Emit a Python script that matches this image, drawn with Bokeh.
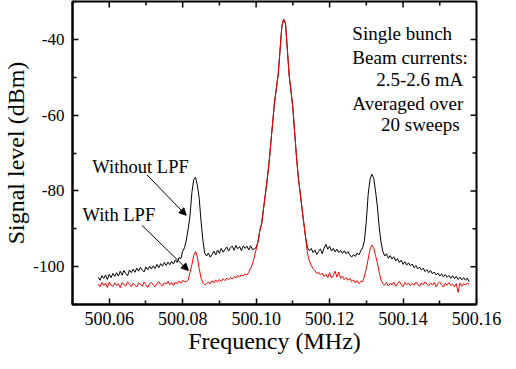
import numpy as np
from bokeh.plotting import figure
from bokeh.models import (FixedTicker, PrintfTickFormatter, Label, Arrow, NormalHead,
                          ColumnDataSource)
from bokeh.embed import file_html
from bokeh.resources import INLINE

# ---------------- data ----------------
# frequency sweep grid (MHz), 0.0005 MHz spacing, 500.057 .. 500.158
freq = np.round(500.057 + 0.0005 * np.arange(203), 4)

without_lpf = [
    -102.8, -103.6, -102.4, -103.1, -102.2, -103.4, -102.0, -102.9, -101.8, -102.6,
    -101.6, -102.5, -101.2, -102.3, -101.0, -101.9, -102.4, -100.9, -101.6, -100.7,
    -101.5, -100.4, -101.2, -100.2, -100.9, -101.4, -100.1, -100.8, -99.9, -100.6,
    -99.8, -100.5, -99.4, -100.3, -99.2, -99.9, -98.9, -99.7, -98.8, -99.5,
    -98.6, -99.3, -98.2, -98.9, -97.6, -97.9, -96.0, -95.0, -93.0, -90.0,
    -86.5, -80.5, -77.0, -76.4, -78.5, -82.0, -88.0, -93.0, -96.5, -97.2,
    -96.4, -97.5, -96.8, -95.9, -96.9, -95.6, -96.5, -95.2, -96.2, -95.5,
    -94.8, -95.9, -95.0, -94.6, -95.7, -94.4, -95.3, -94.7, -95.8, -94.5,
    -95.2, -94.6, -95.6, -94.5, -95.5, -95.3, -95.0, -93.5, -90.5, -88.7,
    -84.8, -81.0, -77.1, -72.8, -67.4, -62.0, -56.6, -53.0, -49.3, -43.0,
    -36.5, -34.7, -35.8, -42.7, -49.6, -53.7, -58.1, -64.7, -71.2, -76.6,
    -80.6, -84.7, -88.7, -92.5, -95.0, -95.8, -95.2, -96.3, -95.6, -96.8,
    -96.0, -95.3, -96.6, -95.1, -94.1, -95.4, -94.6, -95.9, -95.2, -96.1,
    -95.4, -96.3, -95.7, -96.5, -95.8, -96.6, -96.0, -96.9, -97.5, -96.8,
    -97.3, -96.4, -96.9, -95.8, -95.0, -93.0, -88.0, -81.0, -77.0, -75.6,
    -76.5, -80.0, -84.0, -89.5, -93.5, -96.0, -97.2, -96.6, -97.8, -97.1,
    -98.0, -97.4, -98.5, -97.9, -98.9, -98.3, -99.4, -98.7, -99.6, -99.0,
    -99.8, -99.3, -100.3, -99.7, -100.6, -100.1, -100.9, -100.4, -101.3, -100.8,
    -101.6, -101.0, -101.9, -101.4, -102.2, -101.7, -102.5, -101.9, -102.7, -102.1,
    -102.8, -102.3, -103.1, -102.4, -103.2, -102.6, -103.4, -102.8, -103.5, -102.9,
    -103.6, -103.0, -104.0,
]

with_lpf = [
    -104.6, -105.3, -104.2, -105.0, -104.4, -105.5, -104.1, -104.9, -105.2, -104.3,
    -105.0, -104.5, -105.6, -104.2, -104.8, -105.1, -104.0, -104.7, -105.3, -104.4,
    -104.9, -105.4, -104.3, -104.6, -105.2, -104.1, -104.8, -105.5, -104.5, -104.2,
    -104.9, -105.3, -104.4, -104.0, -104.7, -105.1, -104.3, -104.6, -103.9, -104.8,
    -104.2, -105.0, -104.1, -104.5, -103.8, -104.4, -103.6, -104.0, -104.0, -103.5,
    -101.5, -99.5, -97.0, -96.0, -97.5, -100.5, -103.0, -104.2, -104.8, -104.5,
    -104.0, -104.6, -103.7, -104.3, -103.5, -104.1, -103.4, -103.9, -103.2, -103.7,
    -103.0, -103.5, -102.8, -103.3, -102.6, -103.0, -102.3, -102.8, -102.1, -102.5,
    -101.9, -102.2, -101.5, -100.5, -99.3, -97.5, -95.5, -93.5, -90.5, -88.7,
    -84.8, -81.0, -77.1, -72.8, -67.4, -62.0, -56.6, -53.0, -49.3, -43.0,
    -36.5, -34.7, -35.8, -42.7, -49.6, -53.7, -58.1, -64.7, -71.2, -76.6,
    -80.6, -84.7, -88.7, -92.5, -96.6, -98.5, -99.7, -100.5, -101.0, -101.8,
    -101.5, -102.2, -101.7, -102.6, -102.0, -102.9, -101.6, -103.0, -102.4, -101.2,
    -102.8, -101.4, -103.1, -102.5, -103.4, -102.9, -103.6, -103.1, -104.0, -103.5,
    -104.3, -103.7, -104.5, -103.9, -104.0, -102.5, -100.5, -98.0, -95.5, -94.3,
    -95.0, -97.0, -99.0, -101.5, -103.5, -104.5, -104.9, -104.2, -105.1, -104.4,
    -104.8, -104.1, -105.2, -104.5, -103.9, -104.7, -105.3, -104.2, -104.8, -104.3,
    -105.0, -104.4, -104.9, -104.1, -104.7, -105.2, -104.3, -104.8, -104.0, -104.6,
    -105.1, -104.3, -104.9, -104.2, -105.3, -104.5, -104.0, -104.8, -105.4, -104.4,
    -104.9, -104.2, -105.0, -104.6, -105.3, -104.5, -106.8, -104.3, -105.2, -104.5,
    -104.9, -104.3, -104.6,
]

x_ticks = [500.06, 500.08, 500.10, 500.12, 500.14, 500.16]
x_minor = [500.05, 500.07, 500.09, 500.11, 500.13, 500.15]
y_ticks = [-100, -80, -60, -40]
y_minor = [-110, -90, -70, -50, -30]

info_lines = ["Single bunch", "Beam currents:", "2.5-2.6 mA", "Averaged over", "20 sweeps"]

FONT = "Liberation Serif"
X_MIN, X_MAX = 500.05, 500.16
Y_MIN, Y_MAX = -110, -30

# ---------------- figure ----------------
W, H = 508, 361
BL, BR, BT, BB = 67, 32, 1, 57
p = figure(width=W, height=H, x_range=(X_MIN, X_MAX), y_range=(Y_MIN, Y_MAX),
           output_backend="svg", toolbar_location=None,
           min_border_left=BL, min_border_right=BR, min_border_top=BT, min_border_bottom=BB)
p.grid.visible = False
p.background_fill_color = "white"
p.border_fill_color = "white"
p.outline_line_color = "black"
p.outline_line_width = 2

p.xaxis.ticker = FixedTicker(ticks=x_ticks, minor_ticks=x_minor)
p.yaxis.ticker = FixedTicker(ticks=y_ticks, minor_ticks=y_minor)
p.xaxis.formatter = PrintfTickFormatter(format="%.2f")
p.yaxis.formatter = PrintfTickFormatter(format="%d")
for ax in (p.xaxis, p.yaxis):
    ax.axis_line_width = 2
    ax.major_tick_in = 6
    ax.major_tick_out = 0
    ax.minor_tick_in = 4
    ax.minor_tick_out = 0
    ax.major_tick_line_width = 1.5
    ax.minor_tick_line_width = 1.5
    ax.major_label_text_font = FONT
    ax.major_label_text_color = "black"
    ax.axis_label_text_font = FONT
    ax.axis_label_text_font_style = "normal"
    ax.axis_label_text_color = "black"

p.xaxis.major_label_text_font_size = "18px"
p.xaxis.major_label_standoff = 7
p.xaxis.axis_label = "Frequency (MHz)"
p.xaxis.axis_label_text_font_size = "24px"
p.xaxis.axis_label_standoff = 0

p.yaxis.major_label_text_font_size = "17px"
p.yaxis.major_label_standoff = 8
p.yaxis.axis_label = "Signal level (dBm)"
p.yaxis.axis_label_text_font_size = "24px"
p.yaxis.axis_label_standoff = 1

# mirrored inward ticks on the top and right frame edges (from the tick lists)
px_per_x = (W - BL - BR) / (X_MAX - X_MIN)
px_per_y = (H - BT - BB) / (Y_MAX - Y_MIN)
MAJ, MIN = 6, 4
tx = x_ticks + x_minor
tlen = [MAJ] * len(x_ticks) + [MIN] * len(x_minor)
p.segment(x0=tx, x1=tx, y0=[Y_MAX] * len(tx),
          y1=[Y_MAX - L / px_per_y for L in tlen], line_color="black", line_width=1.5)
ty = y_ticks + y_minor
tlen_y = [MAJ] * len(y_ticks) + [MIN] * len(y_minor)
p.segment(x0=[X_MAX] * len(ty), x1=[X_MAX - L / px_per_x for L in tlen_y],
          y0=ty, y1=ty, line_color="black", line_width=1.5)

src = ColumnDataSource(dict(freq=freq, without=without_lpf, withlpf=with_lpf))
p.line("freq", "without", source=src, line_color="black", line_width=1)
p.line("freq", "withlpf", source=src, line_color="#ff0000", line_width=1)

# annotations
p.add_layout(Label(x=500.0554, y=-73.7, text="Without LPF", text_font=FONT,
                   text_font_size="18.5px", text_baseline="alphabetic", text_color="black"))
p.add_layout(Label(x=500.0527, y=-86.5, text="With LPF", text_font=FONT,
                   text_font_size="18.5px", text_baseline="alphabetic", text_color="black"))

p.add_layout(Arrow(end=NormalHead(size=7, fill_color="black", line_color="black"),
                   x_start=500.0703, y_start=-75.8, x_end=500.08095, y_end=-86.45,
                   line_color="black", line_width=1))
p.add_layout(Arrow(end=NormalHead(size=7, fill_color="black", line_color="black"),
                   x_start=500.0689, y_start=-89.1, x_end=500.08154, y_end=-101.0,
                   line_color="black", line_width=1))

info_x = [500.1262, 500.1262, 500.1327, 500.1262, 500.1340]
info_y = [-38.5, -44.8, -50.7, -56.9, -62.6]
for t, xx, yy in zip(info_lines, info_x, info_y):
    p.add_layout(Label(x=xx, y=yy, text=t, text_font=FONT, text_font_size="19px",
                       text_baseline="alphabetic", text_color="black"))

open("out.html", "w").write(file_html(p, INLINE))
